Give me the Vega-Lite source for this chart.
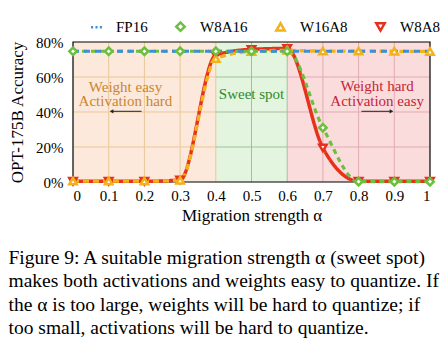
{
  "$schema": "https://vega.github.io/schema/vega-lite/v6.json",
  "autosize": {"type": "none"},
  "width": 357,
  "height": 140,
  "padding": {"left": 73, "top": 42, "right": 15, "bottom": 156},
  "background": "white",
  "config": {
    "font": "Liberation Serif",
    "view": {"stroke": null},
    "text": {"font": "Liberation Serif"},
    "axis": {"labelFont": "Liberation Serif", "titleFont": "Liberation Serif", "labelColor": "black", "titleColor": "black", "titleFontWeight": "normal"},
    "legend": {"labelFont": "Liberation Serif", "labelColor": "black", "labelOffset": 12, "columnPadding": 23, "columns": 4, "symbolStrokeWidth": 2.5, "labelFontSize": 15}
  },
  "title": {
    "text": ["Figure 9: A suitable migration strength α (sweet spot)", "makes both activations and weights easy to quantize. If", "the α is too large, weights will be hard to quantize; if", "too small, activations will be hard to quantize."],
    "orient": "bottom",
    "anchor": "start",
    "frame": "bounds",
    "font": "Liberation Serif",
    "fontSize": 19.5,
    "fontWeight": "normal",
    "color": "black",
    "lineHeight": 23.3,
    "offset": 26
  },
  "datasets": {
    "acc": [
      {"a": 0, "s": "W8A8", "v": 0.4}, {"a": 0.1, "s": "W8A8", "v": 0.4}, {"a": 0.2, "s": "W8A8", "v": 0.4}, {"a": 0.3, "s": "W8A8", "v": 1.2}, {"a": 0.4, "s": "W8A8", "v": 72.5}, {"a": 0.5, "s": "W8A8", "v": 75.8}, {"a": 0.6, "s": "W8A8", "v": 76.3}, {"a": 0.7, "s": "W8A8", "v": 19.5}, {"a": 0.8, "s": "W8A8", "v": 0.5}, {"a": 0.9, "s": "W8A8", "v": 0.5}, {"a": 1, "s": "W8A8", "v": 0.5},
      {"a": 0, "s": "W16A8", "v": 0.5}, {"a": 0.1, "s": "W16A8", "v": 0.5}, {"a": 0.2, "s": "W16A8", "v": 0.5}, {"a": 0.3, "s": "W16A8", "v": 1.0}, {"a": 0.4, "s": "W16A8", "v": 70.5}, {"a": 0.5, "s": "W16A8", "v": 74.6}, {"a": 0.6, "s": "W16A8", "v": 75.2}, {"a": 0.7, "s": "W16A8", "v": 74.8}, {"a": 0.8, "s": "W16A8", "v": 74.8}, {"a": 0.9, "s": "W16A8", "v": 74.7}, {"a": 1, "s": "W16A8", "v": 74.6},
      {"a": 0, "s": "W8A16", "v": 74.7}, {"a": 0.1, "s": "W8A16", "v": 74.7}, {"a": 0.2, "s": "W8A16", "v": 74.7}, {"a": 0.3, "s": "W8A16", "v": 74.7}, {"a": 0.4, "s": "W8A16", "v": 74.7}, {"a": 0.5, "s": "W8A16", "v": 74.7}, {"a": 0.6, "s": "W8A16", "v": 74.7}, {"a": 0.7, "s": "W8A16", "v": 31}, {"a": 0.8, "s": "W8A16", "v": 0.2}, {"a": 0.9, "s": "W8A16", "v": 0.2}, {"a": 1, "s": "W8A16", "v": 0.2},
      {"a": 0, "s": "FP16", "v": 74.7}, {"a": 0.1, "s": "FP16", "v": 74.7}, {"a": 0.2, "s": "FP16", "v": 74.7}, {"a": 0.3, "s": "FP16", "v": 74.7}, {"a": 0.4, "s": "FP16", "v": 74.7}, {"a": 0.5, "s": "FP16", "v": 74.7}, {"a": 0.6, "s": "FP16", "v": 74.7}, {"a": 0.7, "s": "FP16", "v": 74.7}, {"a": 0.8, "s": "FP16", "v": 74.7}, {"a": 0.9, "s": "FP16", "v": 74.7}, {"a": 1, "s": "FP16", "v": 74.7}
    ],
    "regions": [
      {"r": "a", "x0": 0, "x1": 0.4},
      {"r": "b", "x0": 0.4, "x1": 0.6},
      {"r": "c", "x0": 0.6, "x1": 1}
    ],
    "vgrid": [
      {"r": "a", "x": 0.1}, {"r": "a", "x": 0.2}, {"r": "a", "x": 0.3}, {"r": "a", "x": 0.4},
      {"r": "b", "x": 0.5}, {"r": "b", "x": 0.6},
      {"r": "c", "x": 0.7}, {"r": "c", "x": 0.8}, {"r": "c", "x": 0.9}
    ],
    "hgrid": [
      {"r": "a", "x0": 0, "x1": 0.4, "y": 20}, {"r": "a", "x0": 0, "x1": 0.4, "y": 40}, {"r": "a", "x0": 0, "x1": 0.4, "y": 60},
      {"r": "b", "x0": 0.4, "x1": 0.6, "y": 20}, {"r": "b", "x0": 0.4, "x1": 0.6, "y": 40}, {"r": "b", "x0": 0.4, "x1": 0.6, "y": 60},
      {"r": "c", "x0": 0.6, "x1": 1, "y": 20}, {"r": "c", "x0": 0.6, "x1": 1, "y": 40}, {"r": "c", "x0": 0.6, "x1": 1, "y": 60}
    ]
  },
  "resolve": {"scale": {"color": "independent", "stroke": "independent", "shape": "independent", "strokeDash": "independent", "strokeWidth": "independent"}},
  "layer": [
    {
      "data": {"name": "regions"},
      "mark": {"type": "rect"},
      "encoding": {
        "x": {"field": "x0", "type": "quantitative", "scale": {"domain": [0, 1], "nice": false},
          "axis": {"tickCount": 10, "labelExpr": "datum.value == 0 ? '0' : datum.value == 1 ? '1' : format(datum.value, '.1f')", "grid": false, "ticks": false, "domain": false, "labelFont": "Liberation Serif", "labelFontSize": 15, "labelPadding": 6, "labelOverlap": false, "labelSeparation": -60, "title": "Migration strength α", "titleFont": "Liberation Serif", "titleFontSize": 17, "titlePadding": 4}},
        "x2": {"field": "x1"},
        "y": {"datum": 0, "type": "quantitative", "scale": {"domain": [0, 80], "nice": false},
          "axis": {"tickCount": 4, "labelExpr": "datum.value + '%'", "grid": false, "ticks": false, "domain": false, "labelFont": "Liberation Serif", "labelFontSize": 15, "labelPadding": 10, "labelOverlap": false, "labelSeparation": -60, "title": "OPT-175B Accuracy", "titleFont": "Liberation Serif", "titleFontSize": 17, "titlePadding": 9}},
        "y2": {"datum": 80},
        "color": {"field": "r", "type": "nominal", "scale": {"domain": ["a", "b", "c"], "range": ["#fde9dc", "#e3f5de", "#fadcdc"]}, "legend": null}
      }
    },
    {
      "data": {"name": "vgrid"},
      "mark": {"type": "rule", "strokeWidth": 1},
      "encoding": {
        "x": {"field": "x", "type": "quantitative"},
        "y": {"datum": 0, "type": "quantitative"},
        "y2": {"datum": 80},
        "color": {"field": "r", "type": "nominal", "scale": {"domain": ["a", "b", "c"], "range": ["#e9c795", "#a3c09c", "#e2abb2"]}, "legend": null}
      }
    },
    {
      "data": {"name": "hgrid"},
      "mark": {"type": "rule", "strokeWidth": 1},
      "encoding": {
        "x": {"field": "x0", "type": "quantitative"},
        "x2": {"field": "x1"},
        "y": {"field": "y", "type": "quantitative"},
        "color": {"field": "r", "type": "nominal", "scale": {"domain": ["a", "b", "c"], "range": ["#e9c795", "#a3c09c", "#e2abb2"]}, "legend": null}
      }
    },
    {
      "data": {"values": [{"x0": 0, "x1": 1, "y0": 0, "y1": 80}]},
      "mark": {"type": "rect", "fill": null, "fillOpacity": 0, "stroke": "black", "strokeWidth": 1.2},
      "encoding": {
        "x": {"field": "x0", "type": "quantitative"},
        "x2": {"field": "x1"},
        "y": {"field": "y0", "type": "quantitative"},
        "y2": {"field": "y1"}
      }
    },
    {
      "data": {"values": [{"x": 0.147, "y": 54.3, "t": "Weight easy\nActivation hard"}]},
      "mark": {"type": "text", "font": "Liberation Serif", "fontSize": 15, "color": "#c8862e", "lineBreak": "\n", "lineHeight": 14.5, "baseline": "middle"},
      "encoding": {"x": {"field": "x", "type": "quantitative"}, "y": {"field": "y", "type": "quantitative"}, "text": {"field": "t"}}
    },
    {
      "data": {"values": [{"x": 0.5, "y": 50.5, "t": "Sweet spot"}]},
      "mark": {"type": "text", "font": "Liberation Serif", "fontSize": 15, "color": "#2e8b2e", "baseline": "middle"},
      "encoding": {"x": {"field": "x", "type": "quantitative"}, "y": {"field": "y", "type": "quantitative"}, "text": {"field": "t"}}
    },
    {
      "data": {"values": [{"x": 0.852, "y": 54.6, "t": "Weight hard\nActivation easy"}]},
      "mark": {"type": "text", "font": "Liberation Serif", "fontSize": 15, "color": "#c42535", "lineBreak": "\n", "lineHeight": 14.5, "baseline": "middle"},
      "encoding": {"x": {"field": "x", "type": "quantitative"}, "y": {"field": "y", "type": "quantitative"}, "text": {"field": "t"}}
    },
    {
      "data": {"values": [{"x0": 0.192, "x1": 0.112, "y": 40.4}, {"x0": 0.808, "x1": 0.888, "y": 40.4}]},
      "mark": {"type": "rule", "color": "#222", "strokeWidth": 1},
      "encoding": {"x": {"field": "x0", "type": "quantitative"}, "x2": {"field": "x1"}, "y": {"field": "y", "type": "quantitative"}}
    },
    {
      "data": {"values": [{"x": 0.108, "y": 40.4, "d": "left"}]},
      "mark": {"type": "point", "shape": "triangle-left", "filled": true, "color": "#222", "size": 18, "opacity": 1},
      "encoding": {"x": {"field": "x", "type": "quantitative"}, "y": {"field": "y", "type": "quantitative"}}
    },
    {
      "data": {"values": [{"x": 0.892, "y": 40.4, "d": "right"}]},
      "mark": {"type": "point", "shape": "triangle-right", "filled": true, "color": "#222", "size": 18, "opacity": 1},
      "encoding": {"x": {"field": "x", "type": "quantitative"}, "y": {"field": "y", "type": "quantitative"}}
    },
    {
      "data": {"name": "acc"},
      "mark": {"type": "line", "interpolate": "monotone"},
      "encoding": {
        "x": {"field": "a", "type": "quantitative"},
        "y": {"field": "v", "type": "quantitative"},
        "color": {"field": "s", "type": "nominal", "scale": {"domain": ["FP16", "W8A16", "W16A8", "W8A8"], "range": ["#3d8fd6", "#6cbf3f", "#f2b21c", "#e8311c"]}, "legend": null},
        "strokeDash": {"field": "s", "type": "nominal", "scale": {"domain": ["FP16", "W8A16", "W16A8", "W8A8"], "range": [[6, 5], [5, 4], [6, 4], [1, 0]]}, "legend": null},
        "strokeWidth": {"field": "s", "type": "nominal", "scale": {"domain": ["FP16", "W8A16", "W16A8", "W8A8"], "range": [3, 3.5, 2.5, 2]}, "legend": null}
      }
    },
    {
      "data": {"name": "acc"},
      "transform": [{"filter": "datum.s != 'FP16'"}],
      "mark": {"type": "point", "filled": true, "fill": "white", "strokeWidth": 2.5, "size": 55, "opacity": 1},
      "encoding": {
        "x": {"field": "a", "type": "quantitative"},
        "y": {"field": "v", "type": "quantitative"},
        "stroke": {"field": "s", "type": "nominal", "scale": {"domain": ["FP16", "W8A16", "W16A8", "W8A8"], "range": ["#3d8fd6", "#6cbf3f", "#f2b21c", "#e8311c"]},
          "legend": {"title": null, "orient": "none", "direction": "horizontal", "columns": 4, "legendX": 16, "legendY": -23, "padding": 0, "labelOffset": 12, "columnPadding": 23, "symbolStrokeWidth": 2.5, "symbolSize": 70, "labelFontSize": 15, "labelFont": "Liberation Serif"}},
        "shape": {"field": "s", "type": "nominal", "scale": {"domain": ["FP16", "W8A16", "W16A8", "W8A8"], "range": ["M-1.3,0H-0.8M-0.25,0H0.25M0.8,0H1.3", "diamond", "triangle-up", "triangle-down"]},
          "legend": {"title": null, "orient": "none", "direction": "horizontal", "columns": 4, "legendX": 16, "legendY": -23, "padding": 0, "labelOffset": 12, "columnPadding": 23, "symbolStrokeWidth": 2.5, "symbolSize": 70, "labelFontSize": 15, "labelFont": "Liberation Serif"}}
      }
    }
  ]
}
